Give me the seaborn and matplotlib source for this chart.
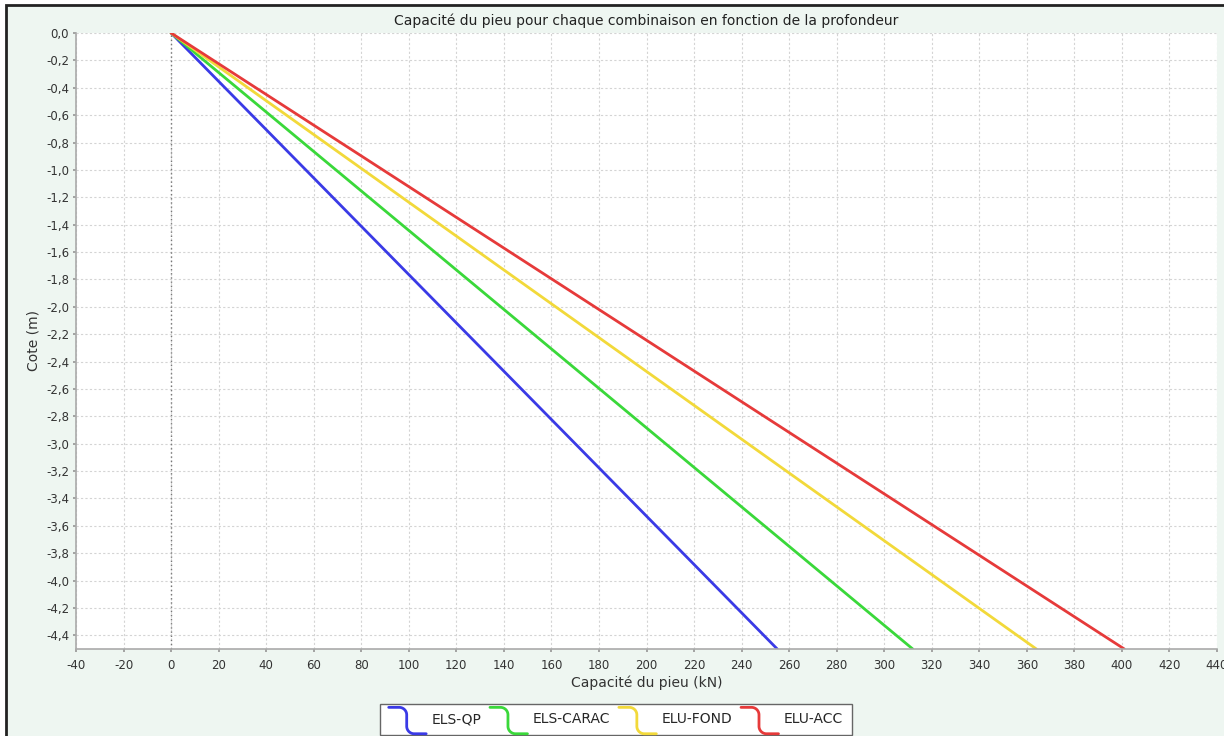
import matplotlib
matplotlib.use("Agg")
import matplotlib.pyplot as plt
import seaborn as sns
import pandas as pd
import numpy as np
from matplotlib.patches import Rectangle
from matplotlib.legend_handler import HandlerBase
from matplotlib.lines import Line2D

# Pile capacity per load combination vs depth
depths = [0.0, -4.5]
els_qp = [0.0, 255.0]
els_carac = [0.0, 312.0]
elu_fond = [0.0, 364.0]
elu_acc = [0.0, 401.0]

combos = ["ELS-QP", "ELS-CARAC", "ELU-FOND", "ELU-ACC"]
colors = ["#3a3ae6", "#3ad83a", "#f2d93a", "#e63a3a"]

x_ticks = list(range(-40, 441, 20))
y_ticks = [round(-0.2 * i, 1) for i in range(0, 23)]

rows = []
for name, vals in zip(combos, [els_qp, els_carac, elu_fond, elu_acc]):
    for d, v in zip(depths, vals):
        rows.append({"Combinaison": name, "Cote": d, "Capacite": v})
df = pd.DataFrame(rows)


class StepCurveHandler(HandlerBase):
    """Legend key drawn as a rounded step: top run, drop, bottom run."""

    def create_artists(self, legend, orig_handle, xdescent, ydescent,
                       width, height, fontsize, trans):
        x0 = -xdescent
        yc = -ydescent + height / 2
        y_top = yc + 0.8 * fontsize
        y_bot = yc - 1.1 * fontsize
        r = 0.2 * width
        xa = x0 + 0.28 * width          # end of top run
        xv = xa + r                     # vertical segment x
        xs = [x0, xa]
        ys = [y_top, y_top]
        # upper corner: quarter arc turning downward
        th = np.linspace(np.pi / 2, 0, 20)
        xs += list(xa + r * np.cos(th))
        ys += list(y_top - r + r * np.sin(th))
        # lower corner: quarter arc turning right
        th = np.linspace(np.pi, 3 * np.pi / 2, 20)
        xs += list(xv + r + r * np.cos(th))
        ys += list(y_bot + r + r * np.sin(th))
        xs += [x0 + width]
        ys += [y_bot]
        line = Line2D(xs, ys, color=orig_handle.get_color(),
                      linewidth=orig_handle.get_linewidth(),
                      solid_capstyle="round", solid_joinstyle="round")
        line.set_transform(trans)
        return [line]


sns.set_theme(style="white")
plt.rcParams["font.family"] = ["DejaVu Sans"]

bg = "#eef6f1"
fig = plt.figure(figsize=(12.24, 7.36), dpi=100, facecolor="white")
# window frame
fig.add_artist(Rectangle((6 / 1224, -0.1), 1.2, (736 - 5) / 736 + 0.1,
                         transform=fig.transFigure, facecolor=bg,
                         edgecolor="#222222", linewidth=2.0, zorder=-10))

ax = fig.add_axes([76 / 1224, 87 / 736, (1217 - 76) / 1224, (649 - 33) / 736])
ax.set_facecolor("white")

sns.lineplot(data=df, x="Capacite", y="Cote", hue="Combinaison",
             hue_order=combos, palette=colors, linewidth=2.0, ax=ax,
             legend=False, sort=False, estimator=None)

ax.axvline(0, color="#777777", linestyle=(0, (1, 2)), linewidth=1.0, zorder=1)

ax.set_xlim(-40, 440)
ax.set_ylim(-4.5, 0)
ax.set_xticks(x_ticks)
ax.set_yticks(y_ticks)
ax.set_xticklabels([str(t) for t in x_ticks], fontsize=8.5, color="#333333")
ax.set_yticklabels([f"{t:.1f}".replace(".", ",").replace("-0,0", "0,0") for t in y_ticks],
                   fontsize=8.5, color="#333333")
ax.tick_params(axis="both", length=2, color="#999999", pad=3)
ax.tick_params(axis="x", bottom=True, pad=5)
ax.tick_params(axis="y", left=True)

ax.grid(True, color="#d4d4d4", linestyle=(0, (2, 2)), linewidth=0.8)
ax.set_axisbelow(True)
for side in ["top", "right"]:
    ax.spines[side].set_visible(False)
for side in ["left", "bottom"]:
    ax.spines[side].set_color("#aaaaaa")
    ax.spines[side].set_linewidth(1.2)

ax.set_xlabel("Capacité du pieu (kN)", fontsize=10, color="#333333", labelpad=3)
ax.set_ylabel("Cote (m)", fontsize=10, color="#333333", labelpad=4)
ax.set_title("Capacité du pieu pour chaque combinaison en fonction de la profondeur",
             fontsize=10, color="#222222", pad=6)

handles = [Line2D([], [], color=c, linewidth=2.0) for c in colors]
leg = fig.legend(handles, combos, loc="upper center", bbox_to_anchor=(616 / 1224, 32 / 736),
                 ncol=4, frameon=True, fontsize=10, handlelength=2.7,
                 columnspacing=0.6, handletextpad=0.4, borderpad=0.6,
                 borderaxespad=0.0, fancybox=False,
                 handler_map={Line2D: StepCurveHandler()})
leg.get_frame().set_edgecolor("#666666")
leg.get_frame().set_facecolor("white")
leg.get_frame().set_linewidth(1.0)
leg.get_frame().set_alpha(1.0)

fig.savefig("out.png", dpi=100, facecolor=fig.get_facecolor())
